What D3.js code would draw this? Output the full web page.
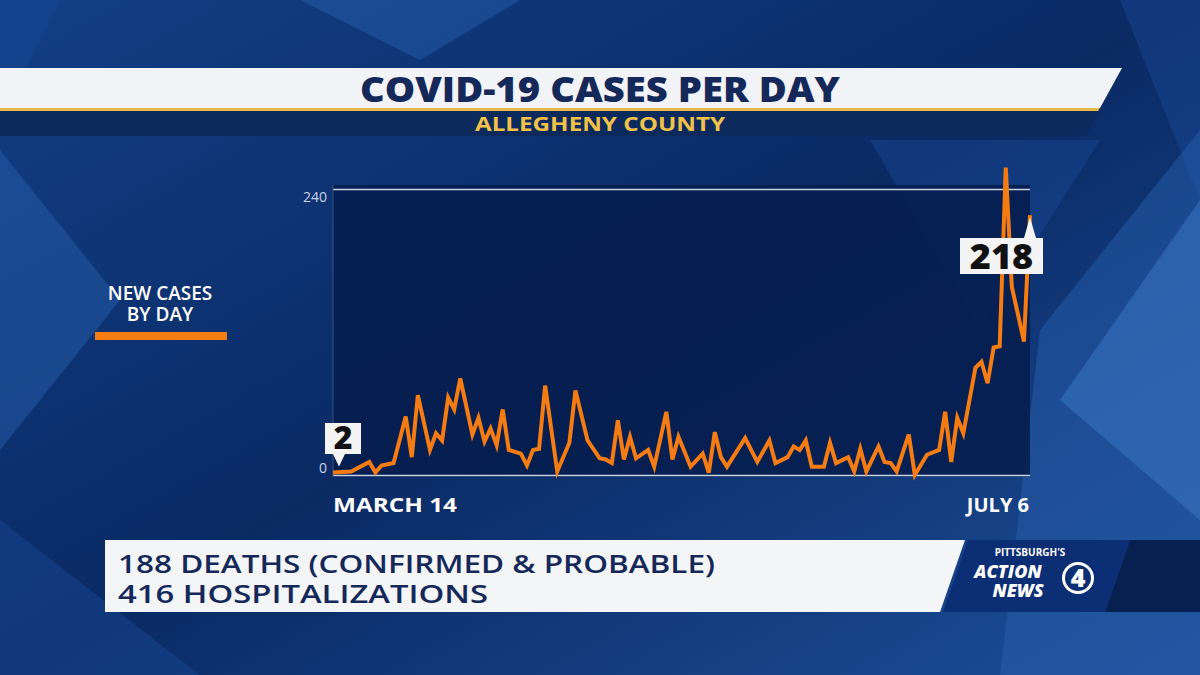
<!DOCTYPE html>
<html><head><meta charset="utf-8">
<script src="https://cdn.jsdelivr.net/npm/d3@7"></script>
<style>body{margin:0;background:#0b2a5e;overflow:hidden}svg{display:block}</style>
</head><body><svg id="c" width="1200" height="675"></svg>
<script>
const startDate = "2020-03-14";
const dayOffsets = [0,3,6,7,8,10,12,13,14,16,17,18,19,20,21,23,24,25,26,27,28,29,31,32,33,34,35,37,39,40,42,44,45,46,47,48,49,50,52,53,55,56,57,59,61,62,63,64,65,68,70,72,73,75,76,77,78,79,81,82,83,85,86,87,88,90,91,92,93,95,96,98,100,101,102,103,104,106,107,108,109,110,111,112,114,115];
const newCases = [2,3,11,2,8,10,49,15,67,21,35,29,65,55,81,34,48,28,39,25,55,21,18,8,21,22,75,3,27,71,29,14,13,10,46,13,32,14,21,7,53,13,32,7,18,2,36,15,7,31,11,29,10,15,24,21,29,7,7,27,10,15,3,22,3,24,11,10,3,34,0,17,21,53,11,48,35,90,95,77,107,108,258,158,112,218];
const yTicks = [0,240];
const title = "COVID-19 CASES PER DAY", subtitle = "ALLEGHENY COUNTY";
const legendLines = ["NEW CASES","BY DAY"];
const startLabel = "MARCH 14", endLabel = "JULY 6";
const footerLines = ["188 DEATHS (CONFIRMED & PROBABLE)","416 HOSPITALIZATIONS"];

const svg = d3.select("#c");
const F = "'Open Sans', 'DejaVu Sans', sans-serif";
const defs = svg.append("defs");
const g1 = defs.append("linearGradient").attr("id","bg").attr("x1",0).attr("y1",0).attr("x2",1).attr("y2",1);
g1.append("stop").attr("offset",0).attr("stop-color","#123f86");
g1.append("stop").attr("offset",0.5).attr("stop-color","#0a2a64");
g1.append("stop").attr("offset",1).attr("stop-color","#1d4f9a");
svg.append("rect").attr("width",1200).attr("height",675).attr("fill","url(#bg)");
const polys = [
 [[0,0],[60,0],[0,120]],[[0,150],[120,300],[0,450]],[[1120,0],[1200,0],[1200,200]],
 [[1040,330],[1200,130],[1200,675],[1000,675]],[[0,520],[200,675],[0,675]],
 [[300,0],[520,0],[420,60]],[[870,140],[1100,140],[980,330]]
];
polys.forEach((p,i)=>svg.append("polygon").attr("points",p.map(d=>d.join(",")).join(" "))
  .attr("fill",i%2?"#2a62b0":"#184a96").attr("opacity",0.45));
svg.append("polygon").attr("points","1060,400 1200,200 1200,520").attr("fill","#3b7ac8").attr("opacity",0.5);

svg.append("polygon").attr("points","0,68 1122,68 1100,108 0,108").attr("fill","#f1f3f7");
svg.append("polygon").attr("points","0,108 1100,108 1098,111 0,111").attr("fill","#e9b949");
svg.append("polygon").attr("points","0,111 1098,111 1086,136 0,136").attr("fill","#0d2a5c");
svg.append("text").attr("x",600).attr("y",102).attr("text-anchor","middle").attr("font-family",F)
  .attr("font-weight",800).attr("font-size",36).attr("fill","#15285a")
  .attr("textLength",480).attr("lengthAdjust","spacingAndGlyphs").text(title);
svg.append("text").attr("x",600).attr("y",131).attr("text-anchor","middle").attr("font-family",F)
  .attr("font-weight",700).attr("font-size",20).attr("fill","#f0c24a")
  .attr("textLength",250).attr("lengthAdjust","spacingAndGlyphs").text(subtitle);

const x = d3.scaleLinear().domain([0,115]).range([333,1030]);
const y = d3.scaleLinear().domain([0,240]).range([475,189]);
svg.append("rect").attr("x",333).attr("y",185).attr("width",697).attr("height",292).attr("fill","#061c4c").attr("opacity",0.85);
const yAx = svg.append("g").attr("transform","translate(333,0)")
  .call(d3.axisLeft(y).tickValues(yTicks).tickSize(-697).tickPadding(6));
yAx.select(".domain").remove();
yAx.selectAll("line").attr("stroke","#c9d3e6").attr("stroke-width",1.5);
yAx.selectAll("text").attr("fill","#c9d3e6").attr("font-family",F).attr("font-size",14)
  .attr("dy",(d)=>d===0?"-0.2em":"0.9em");
svg.append("line").attr("x1",333).attr("x2",333).attr("y1",185).attr("y2",477).attr("stroke","#3a5488");

const pts = dayOffsets.map((d,i)=>[d,newCases[i]]);
svg.append("path").datum(pts).attr("fill","none").attr("stroke","#f57c12").attr("stroke-width",4)
  .attr("stroke-linejoin","miter").attr("d",d3.line().x(d=>x(d[0])).y(d=>y(d[1])));

function callout(xc, yb, w, h, txt, tipX, tipY, fs){
  svg.append("rect").attr("x",xc).attr("y",yb).attr("width",w).attr("height",h).attr("fill","#f4f4f4");
  svg.append("polygon").attr("points",`${tipX-6},${tipY>yb?yb+h:yb} ${tipX+6},${tipY>yb?yb+h:yb} ${tipX},${tipY}`).attr("fill","#f4f4f4");
  svg.append("text").attr("x",xc+w/2).attr("y",yb+h-5).attr("text-anchor","middle").attr("font-family",F)
    .attr("font-weight",800).attr("font-size",fs).attr("fill","#111").text(txt);
}
callout(325,423,36,31,String(newCases[0]),x(0)+6,y(newCases[0])-6,32);
callout(960,238,83,36,String(newCases[newCases.length-1]),x(115),y(218)+2,36);

svg.append("text").attr("x",333).attr("y",512).attr("font-family",F).attr("font-weight",700)
  .attr("font-size",20).attr("fill","#fff").attr("textLength",124).attr("lengthAdjust","spacingAndGlyphs").text(startLabel);
svg.append("text").attr("x",1029).attr("y",512).attr("text-anchor","end").attr("font-family",F).attr("font-weight",700)
  .attr("font-size",20).attr("fill","#fff").text(endLabel);

legendLines.forEach((t,i)=>svg.append("text").attr("x",160).attr("y",300+i*21).attr("text-anchor","middle")
  .attr("font-family",F).attr("font-weight",600).attr("font-size",19).attr("fill","#fff").text(t));
svg.append("rect").attr("x",95).attr("y",332).attr("width",132).attr("height",8).attr("fill","#f57c12");

svg.append("polygon").attr("points","105,540 965,540 940,612 105,612").attr("fill","#f4f5f7");
footerLines.forEach((t,i)=>svg.append("text").attr("x",118).attr("y",573+i*30).attr("font-family",F)
  .attr("font-weight",600).attr("font-size",26).attr("fill","#15285a")
  .attr("textLength",i?370:597).attr("lengthAdjust","spacingAndGlyphs").text(t));
svg.append("polygon").attr("points","968,540 1130,540 1105,612 943,612").attr("fill","#0c2e74");
svg.append("polygon").attr("points","1130,540 1200,540 1200,612 1105,612").attr("fill","#082050");
svg.append("text").attr("x",1030).attr("y",556).attr("text-anchor","middle").attr("font-family",F)
  .attr("font-weight",700).attr("font-size",10).attr("fill","#fff").text("PITTSBURGH'S");
svg.append("text").attr("x",1008).attr("y",578).attr("text-anchor","middle").attr("font-family",F)
  .attr("font-weight",800).attr("font-style","italic").attr("font-size",18).attr("fill","#fff").text("ACTION");
svg.append("text").attr("x",1018).attr("y",597).attr("text-anchor","middle").attr("font-family",F)
  .attr("font-weight",800).attr("font-style","italic").attr("font-size",18).attr("fill","#fff").text("NEWS");
svg.append("circle").attr("cx",1078).attr("cy",578).attr("r",16).attr("fill","#fff");
svg.append("circle").attr("cx",1078).attr("cy",578).attr("r",13).attr("fill","#0c2e74");
svg.append("text").attr("x",1078).attr("y",587).attr("text-anchor","middle").attr("font-family",F)
  .attr("font-weight",800).attr("font-size",25).attr("fill","#fff").text("4");
</script></body></html>
